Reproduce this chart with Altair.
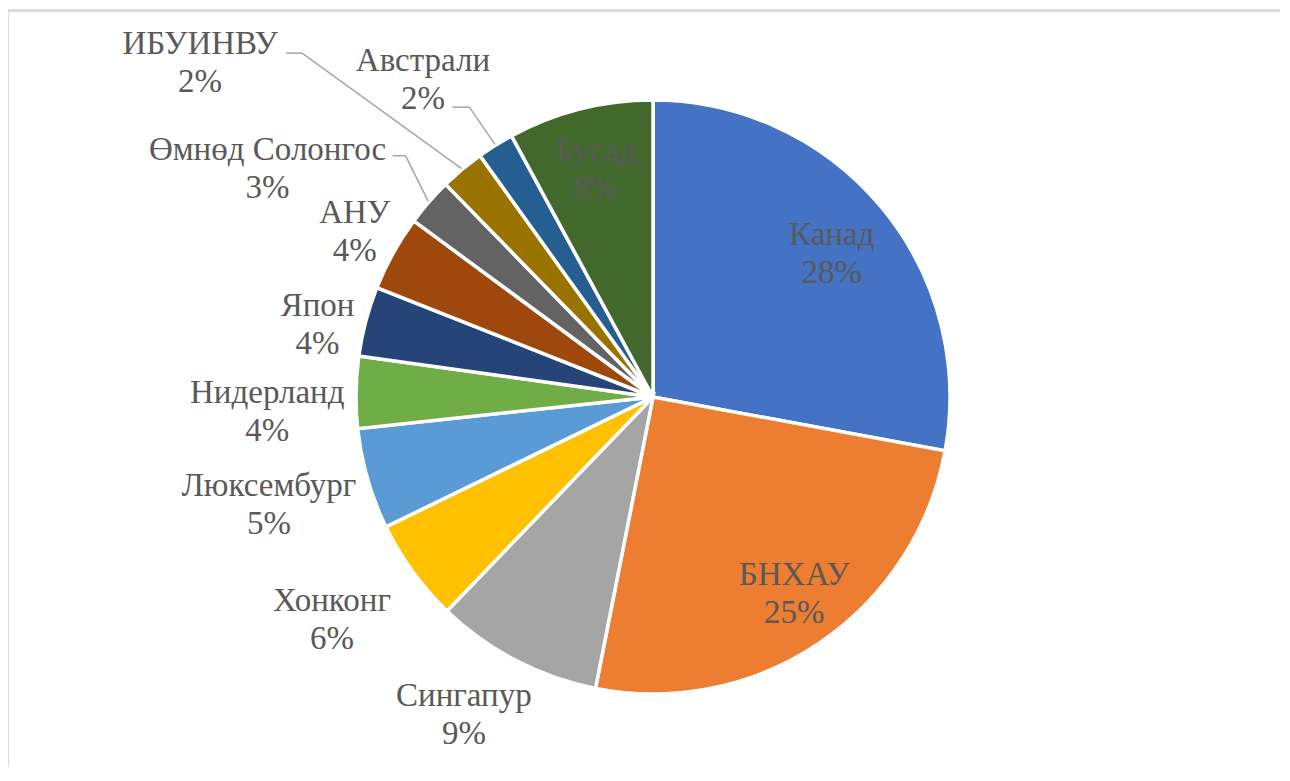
import math
import altair as alt
import pandas as pd

# ---- data ----
countries = ["Канад", "БНХАУ", "Сингапур", "Хонконг", "Люксембург", "Нидерланд",
             "Япон", "АНУ", "Өмнөд Солонгос", "ИБУИНВУ", "Австрали", "Бусад"]
shares = [27.9, 25.2, 9.1, 5.6, 5.5, 3.9, 3.8, 4.1, 2.6, 2.4, 2.0, 7.9]
pct_labels = ["28%", "25%", "9%", "6%", "5%", "4%", "4%", "4%", "3%", "2%", "2%", "8%"]
colors = ["#4472C4", "#ED7D31", "#A5A5A5", "#FFC000", "#5B9BD5", "#70AD47",
          "#264478", "#9E480E", "#636363", "#997300", "#255E91", "#43682B"]

# ---- layout (not data) ----
CX, CY, R = 643, 385, 297
W, H = 1270, 755
LH = 38
FONT = "serif"
FS = 33
label_radius = [229, 242, 370, 391, 399, 386, 343, 341, 448, 563, 392, 234]
label_shift = [1.1, -1.5, 3.2, 1.2, 0.3, -3.1, -2.7, 0.0, -10.4, -13.6, -3.9, 0.0]
leader_start = {"Өмнөд Солонгос": (125, -13), "ИБУИНВУ": (86, -9.5), "Австрали": (29.5, 27.5)}
leader_elbow = {"Өмнөд Солонгос": 13, "ИБУИНВУ": 16, "Австрали": 17}

total = sum(shares)
df = pd.DataFrame({"country": countries, "share": shares, "idx": range(len(countries))})

# label positions derived from slice mid-angles
rows, lrows = [], []
cum = 0.0
for i, (c, s, p) in enumerate(zip(countries, shares, pct_labels)):
    mid = (cum + s / 2) / total * 360.0
    cum += s
    a = math.radians(mid + label_shift[i])
    lx = CX + label_radius[i] * math.sin(a)
    ly = CY - label_radius[i] * math.cos(a)
    rows.append({"name": c, "pct": p, "lx": lx, "y1": ly - LH / 2, "y2": ly + LH / 2})
    if c in leader_start:
        sx, sy = lx + leader_start[c][0], ly + leader_start[c][1]
        ex, ey = sx + leader_elbow[c], sy
        am = math.radians(mid)
        tx, ty = CX + (R + 1) * math.sin(am), CY - (R + 1) * math.cos(am)
        lrows.append({"x": sx, "y": sy, "x2": ex, "y2": ey})
        lrows.append({"x": ex, "y": ey, "x2": tx, "y2": ty})
tdf = pd.DataFrame(rows)
ldf = pd.DataFrame(lrows)

arc = alt.Chart(df).mark_arc(outerRadius=R, stroke="white", strokeWidth=3.5).encode(
    theta=alt.Theta("share:Q", stack=True),
    color=alt.Color("country:N", scale=alt.Scale(domain=countries, range=colors), legend=None),
    order=alt.Order("idx:Q"),
    x=alt.value(CX),
    y=alt.value(CY),
)

leaders = alt.Chart(ldf).mark_rule(color="#A6A6A6", strokeWidth=1.5).encode(
    x=alt.X("x:Q", scale=None, axis=None),
    y=alt.Y("y:Q", scale=None, axis=None),
    x2="x2:Q",
    y2="y2:Q",
)

text_base = alt.Chart(tdf).mark_text(
    font=FONT, fontSize=FS, color="#595959", align="center", baseline="middle",
)
name_text = text_base.encode(
    x=alt.X("lx:Q", scale=None, axis=None),
    y=alt.Y("y1:Q", scale=None, axis=None),
    text="name:N",
)
pct_text = text_base.encode(
    x=alt.X("lx:Q", scale=None, axis=None),
    y=alt.Y("y2:Q", scale=None, axis=None),
    text="pct:N",
)

border_left = alt.Chart(df).mark_rule(color="#D9D9D9", strokeWidth=1.5).encode(
    x=alt.value(-2.5), y=alt.value(-1.5), y2=alt.value(H + 20)
)
border_top = alt.Chart(df).mark_rule(color="#D9D9D9", strokeWidth=1.5).encode(
    x=alt.value(-2.5), x2=alt.value(W + 20), y=alt.value(-1.5)
)

chart = alt.layer(border_left, border_top, arc, leaders, name_text, pct_text).properties(
    width=W, height=H,
    padding={"left": 2, "top": 4, "right": 0, "bottom": 0},
    autosize="none",
).configure_view(strokeWidth=0)

chart.save("out.html", embed_options={"renderer": "svg", "actions": False})
